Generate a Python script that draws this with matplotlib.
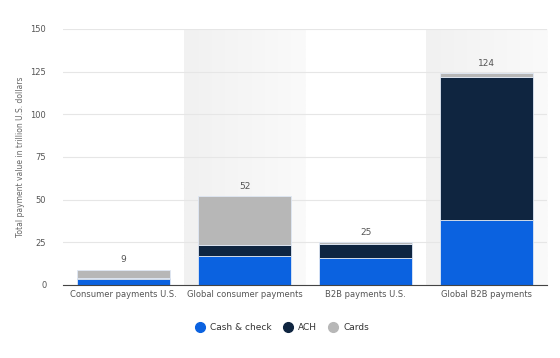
import matplotlib.pyplot as plt
import numpy as np

categories = ['Consumer payments U.S.', 'Global consumer payments', 'B2B payments U.S.', 'Global B2B payments']
cash_check = [3.3, 17.0, 16.0, 38.0]
ach = [0.5, 6.5, 8.0, 84.0]
cards = [5.2, 28.5, 1.0, 2.0]
totals = [9, 52, 25, 124]

series = [('Cash & check', cash_check, '#0b62e0'),
          ('ACH', ach, '#0f2540'),
          ('Cards', cards, '#b7b7b7')]

fig = plt.figure(figsize=(5.6, 3.58), dpi=100)
ax = fig.add_axes([0.1125, 0.204, 0.865, 0.715])

x = np.arange(len(categories))

# shaded bands behind every other category
for i in range(1, len(categories), 2):
    grad = np.linspace(0, 1, 50).reshape(1, -1)
    ax.imshow(grad, extent=[i - 0.5, i + 0.5, 0, 150], aspect='auto',
              cmap=plt.matplotlib.colors.LinearSegmentedColormap.from_list('bg', ['#f1f1f1', '#fafafa']),
              zorder=0)

bottom = np.zeros(len(categories))
for name, vals, col in series:
    ax.bar(x, vals, width=0.77, bottom=bottom, color=col, edgecolor='#dfe8f5',
           linewidth=0.6, label=name, zorder=3)
    bottom += np.array(vals)

for xi, top, t in zip(x, bottom, totals):
    ax.text(xi, top + 3, str(t), ha='center', va='bottom', fontsize=6.5, color='#555555', zorder=4)

ax.set_xlim(-0.5, len(categories) - 0.5)
ax.set_ylim(0, 150)
ax.set_yticks(range(0, 151, 25))
ax.set_xticks(x)
ax.set_xticklabels(categories)
ax.tick_params(axis='both', length=0, labelsize=6, colors='#555555')
ax.tick_params(axis='y', pad=12)
ax.grid(axis='y', color='#e6e6e6', linewidth=0.8, zorder=1)
ax.set_axisbelow(True)
for s in ['top', 'right', 'left']:
    ax.spines[s].set_visible(False)
ax.spines['bottom'].set_color('#444444')
ax.spines['bottom'].set_zorder(5)

ax.set_ylabel('Total payment value in trillion U.S. dollars', fontsize=5.5, color='#666666', labelpad=4)

handles = [plt.Line2D([], [], marker='o', linestyle='', markersize=7, color=c) for _, _, c in series]
fig.legend(handles, [n for n, _, _ in series], loc='center', bbox_to_anchor=(0.5, 0.085),
           ncol=3, frameon=False, fontsize=6.5, handletextpad=0.1, columnspacing=0.8,
           labelcolor='#333333')

fig.savefig('out.png', dpi=100)
